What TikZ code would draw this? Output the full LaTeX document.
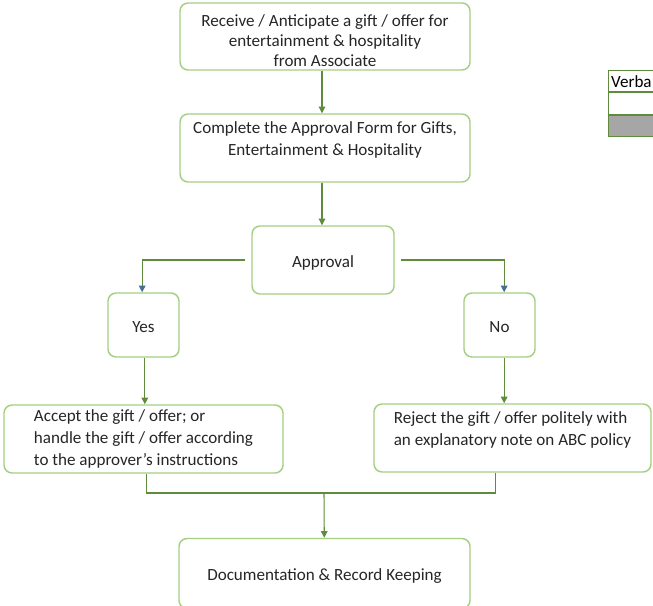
\documentclass[tikz,border=0pt]{standalone}
\usepackage{fontspec}
\setmainfont{Carlito}
\usetikzlibrary{arrows.meta}

\definecolor{boxgreen}{RGB}{165,207,130}
\definecolor{linegreen}{RGB}{95,140,60}
\definecolor{tipblue}{RGB}{70,110,150}
\definecolor{cellgray}{RGB}{166,166,166}

\tikzset{
  stepbox/.style={draw=boxgreen, line width=1.1pt, rounded corners=6pt, fill=white,
    align=center, inner sep=0pt, text=black!85, font=\fontsize{12.8}{16.5}\selectfont},
  oneline/.style={text height=11pt, text depth=0pt},
  flow/.style={draw=linegreen, line width=0.8pt, -{Triangle[length=5pt,width=5pt]}},
  bluetip/.style={-{Triangle[length=5pt,width=5pt,color=tipblue]}},
  cell/.style={draw=linegreen, line width=0.8pt, anchor=north west, minimum width=45pt,
    minimum height=16pt, inner sep=0pt, font=\fontsize{12.8}{14}\selectfont}
}

\begin{document}
\begin{tikzpicture}[x=0.75pt, y=-0.75pt]
  \useasboundingbox (0,0) rectangle (653,606);
  \clip (0,0) rectangle (653,606);

  % main boxes
  \node[stepbox, minimum width=217.5pt, minimum height=50.25pt,
    font=\fontsize{12.8}{14.8}\selectfont] (receive) at (325,36.5)
    {\strut\\[-10pt]Receive / Anticipate a gift / offer for\\entertainment \& hospitality\\from Associate};
  \node[stepbox, minimum width=217.5pt, minimum height=51pt] (form) at (325,148)
    {Complete the Approval Form for Gifts,\\Entertainment \& Hospitality\\[-7.5pt]\strut};
  \node[stepbox, oneline, minimum width=106.5pt, minimum height=51pt] (approval) at (323,260) {Approval};
  \node[stepbox, oneline, minimum width=53.25pt, minimum height=48pt] (yes) at (143.5,325) {Yes};
  \node[stepbox, oneline, minimum width=53.25pt, minimum height=48pt] (no) at (499.5,325) {No};
  \node[stepbox, minimum width=209.25pt, minimum height=51pt, align=left] (accept) at (143.5,439)
    {Accept the gift / offer; or\\handle the gift / offer according\\to the approver's instructions};
  \node[stepbox, minimum width=207.75pt, minimum height=51pt, align=left] (reject) at (512.5,438)
    {Reject the gift / offer politely with\\an explanatory note on ABC policy\\[-7.5pt]\strut};
  \node[stepbox, oneline, minimum width=218.25pt, minimum height=52.5pt] (records) at (324.5,573.5)
    {Documentation \& Record Keeping};

  % legend table, cut at the edge
  \node[cell, text width=41pt, inner xsep=2pt, align=left] (verbhead) at (608,70) {Verba};
  \node[cell] (verbrow) at (verbhead.south west) {};
  \node[cell, fill=cellgray] (verbgray) at (verbrow.south west) {};

  % connectors
  \coordinate (merge) at (324,493);
  \draw[flow] ([xshift=-2.25pt]receive.south) -- ([xshift=-2.25pt]receive.south |- form.north);
  \draw[flow] ([xshift=-2.25pt]form.south) -- ([xshift=-2.25pt]form.south |- approval.north);
  \draw[flow, bluetip, shorten <=4.5pt] (approval.west) -| ([xshift=-1pt]yes.north);
  \draw[flow, bluetip, shorten <=4.5pt] (approval.east) -| ([xshift=3.5pt]no.north);
  \draw[flow] ([xshift=1pt]yes.south) -- ([xshift=1pt]yes.south |- accept.north);
  \draw[flow] ([xshift=3.5pt]no.south) -- ([xshift=3.5pt]no.south |- reject.north);
  \draw[draw=linegreen, line width=0.8pt] ([xshift=2pt]accept.south) |- (merge)
    -| ([xshift=-13pt]reject.south);
  \draw[flow] (merge) -- (records);
\end{tikzpicture}
\end{document}
